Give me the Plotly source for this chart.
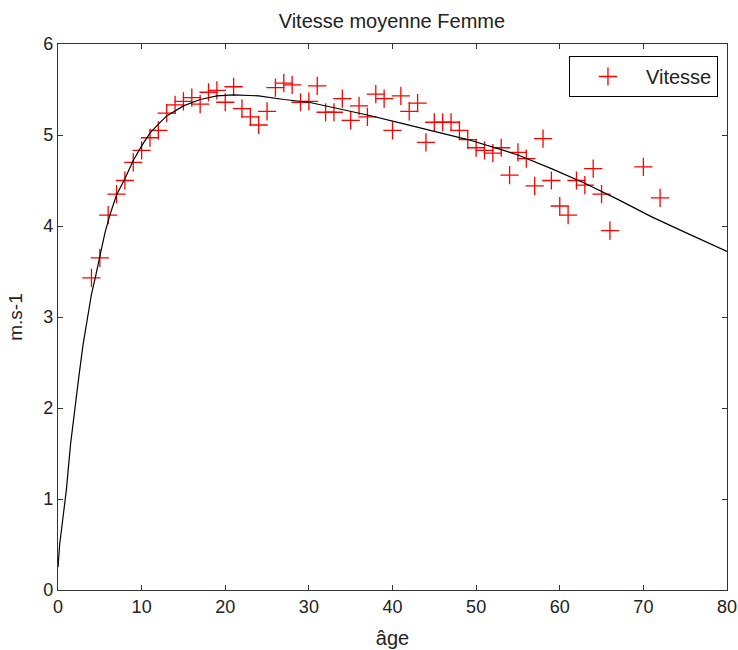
import plotly.graph_objects as go

# Observed mean speeds (m/s) by age
ages = [4, 5, 6, 7, 8, 9, 10, 11, 12, 13, 14, 15, 16, 17, 18, 19, 20, 21, 22, 23,
        24, 25, 26, 27, 28, 29, 30, 31, 32, 33, 34, 35, 36, 37, 38, 39, 40, 41, 42, 43,
        44, 45, 46, 47, 48, 49, 50, 51, 52, 53, 54, 55, 56, 57, 58, 59, 60, 61, 62, 63,
        64, 65, 66, 70, 72]
vitesse = [3.43, 3.65, 4.12, 4.35, 4.50, 4.70, 4.83, 4.97, 5.05, 5.24, 5.33, 5.37, 5.41, 5.34, 5.47, 5.49, 5.36, 5.53, 5.29, 5.20,
           5.11, 5.26, 5.52, 5.57, 5.55, 5.36, 5.37, 5.54, 5.25, 5.25, 5.40, 5.16, 5.32, 5.20, 5.45, 5.40, 5.05, 5.43, 5.26, 5.35,
           4.92, 5.14, 5.14, 5.14, 5.05, 4.95, 4.86, 4.83, 4.80, 4.86, 4.56, 4.81, 4.74, 4.44, 4.96, 4.50, 4.22, 4.12, 4.50, 4.45,
           4.63, 4.35, 3.95, 4.65, 4.31]

# Fitted curve
fit_age = [0, 0.2, 0.6, 1.0, 1.5, 2.0, 2.5, 3.0, 3.5, 4.0, 4.5, 5.0, 5.6, 6.2, 7, 8, 9, 10, 11, 12,
           13, 15, 17, 19, 21, 24, 27, 30, 33, 37, 41, 45, 49, 53, 55, 59, 63, 67, 71, 75, 80]
fit_val = [0.25, 0.50, 0.80, 1.10, 1.60, 2.00, 2.35, 2.70, 2.97, 3.25, 3.45, 3.67, 3.92, 4.12, 4.34, 4.52, 4.72, 4.88, 5.02, 5.12,
           5.21, 5.32, 5.39, 5.43, 5.44, 5.43, 5.39, 5.36, 5.30, 5.22, 5.13, 5.04, 4.95, 4.84, 4.78, 4.63, 4.47, 4.29, 4.10, 3.93, 3.72]

x_ticks = [0, 10, 20, 30, 40, 50, 60, 70, 80]
y_ticks = [0, 1, 2, 3, 4, 5, 6]

font_family = "Liberation Sans, Arial, sans-serif"

fig = go.Figure()
fig.add_trace(go.Scatter(
    x=ages, y=vitesse, mode="markers", name="Vitesse",
    marker=dict(symbol="cross-thin", size=13, color="red",
                line=dict(color="red", width=1.3)),
))
fig.add_trace(go.Scatter(
    x=fit_age, y=fit_val, mode="lines", showlegend=False,
    line=dict(color="black", width=1.2),
))

axis_common = dict(
    showline=True, linecolor="#333333", linewidth=1.2, mirror="ticks",
    ticks="inside", ticklen=5, tickwidth=1, tickcolor="#333333",
    showgrid=False, zeroline=False, automargin=False,
    tickfont=dict(family=font_family, size=18, color="#222222"),
)

fig.update_layout(
    width=738, height=650,
    margin=dict(l=58, r=11, t=44, b=60),
    paper_bgcolor="white", plot_bgcolor="white",
    title=dict(text="Vitesse moyenne Femme", x=0.531, xanchor="center", y=0.968, yanchor="middle",
               font=dict(family=font_family, size=20, color="#222222")),
    xaxis=dict(range=[0, 80], tickvals=x_ticks,
               title=dict(text="âge", font=dict(family=font_family, size=20, color="#222222")),
               **axis_common),
    yaxis=dict(range=[0, 6], tickvals=y_ticks,
               title=dict(text="m.s-1", font=dict(family=font_family, size=19, color="#222222")),
               **axis_common),
    legend=dict(x=0.9865, y=0.978, xanchor="right", yanchor="top",
                bordercolor="black", borderwidth=1, bgcolor="white",
                itemwidth=66,
                font=dict(family=font_family, size=20, color="#222222")),
    showlegend=True,
)

fig.write_html("out.html",
               config={"displayModeBar": False},
               post_script="document.body.style.margin='0';document.body.style.overflow='hidden';")
